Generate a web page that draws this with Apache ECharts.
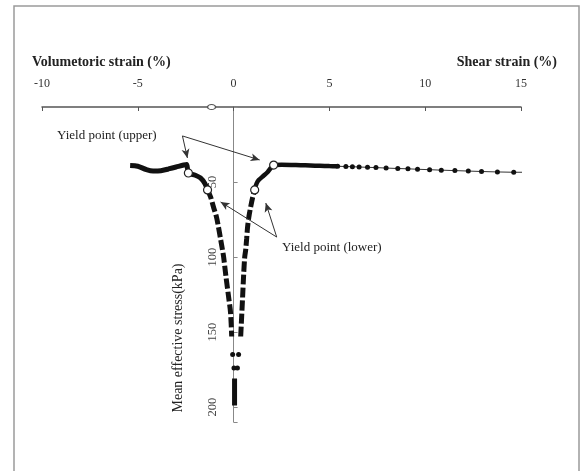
<!DOCTYPE html>
<html>
<head>
<meta charset="utf-8">
<script src="https://cdn.jsdelivr.net/npm/echarts@6/dist/echarts.min.js"></script>
<style>
html,body{margin:0;padding:0;background:#fff;}
#chart{width:587px;height:471px;}
</style>
</head>
<body>
<div id="chart"></div>
<script>
// ---- data (strain %, mean effective stress kPa) ----
const xTicks = [-10, -5, 0, 5, 10, 15];
const yTicks = [50, 100, 150, 200];
const volSolid = [[-5.4,39],[-5.0,39.5],[-4.6,41.5],[-4.2,42.7],[-3.8,42.5],[-3.4,41.3],[-3.0,40],[-2.6,38.7],[-2.45,38.3],[-2.36,44],[-2.0,45.5],[-1.73,47.3],[-1.5,51],[-1.36,55.3]];
const volDashed = [[-1.36,55.3],[-1.2,60],[-1.05,66.7],[-0.9,73],[-0.79,80],[-0.68,88],[-0.58,95.3],[-0.52,100],[-0.4,113],[-0.26,126.7],[-0.16,137],[-0.1,153]];
const shearDashed = [[0.37,153],[0.42,140],[0.47,126.7],[0.52,113],[0.58,100],[0.63,95.3],[0.68,88],[0.73,80],[0.8,73],[0.89,66.7],[1.0,60],[1.10,55.3]];
const shearSolid = [[1.10,55.3],[1.2,51],[1.31,48.7],[1.55,46],[1.78,43.3],[1.95,40.5],[2.09,38.7],[2.5,38.5],[3.0,38.6],[3.5,38.8],[4.0,39],[4.5,39.2],[5.0,39.4],[5.4,39.5]];
const shearDots = [[5.43,39.5],[5.86,39.7],[6.2,39.8],[6.55,40],[6.99,40.2],[7.43,40.4],[7.96,40.7],[8.57,41],[9.1,41.2],[9.6,41.5],[10.23,41.8],[10.84,42.1],[11.55,42.4],[12.25,42.7],[12.94,43],[13.77,43.3],[14.62,43.5]];
const shearTailEnd = [[14.62,43.5],[15.35,43.5]];
const bottomDots = [[-0.05,165],[0.26,165],[0.02,174],[0.2,174]];
const bottomBar = [[0.05,181],[0.05,199]];
const yieldPoints = [[-2.36,44],[-1.36,55.3],[2.09,38.7],[1.10,55.3]];
const axisPoint = [[-1.15,0]];
// annotation arrows: [from, to] in data units
const upperArrows = [[[-2.67,19.3],[-2.41,34]],[[-2.67,19.3],[1.36,35.3]]];
const lowerArrows = [[[2.25,86.7],[-0.68,63.3]],[[2.25,86.7],[1.68,64]]];

const FONT = 'Liberation Serif';
const GRID_LEFT = 42, GRID_WIDTH = 479;
const chart = echarts.init(document.getElementById('chart'), null, {renderer:'canvas'});

function arrowData(list){
  return list.map(a => [{coord:a[0], symbol:'none'}, {coord:a[1], symbol:'arrow', symbolSize:[6,9]}]);
}
// shift y axis so it sits at x = 0 on the strain axis
const yAxisOffset = -GRID_WIDTH * (0 - (-10)) / (15 - (-10));

chart.setOption({
  animation:false,
  backgroundColor:'#fff',
  grid:{left:GRID_LEFT, width:GRID_WIDTH, top:107, height:315, containLabel:false},
  xAxis:{
    type:'value', position:'top', min:-10, max:15, interval:5,
    axisLine:{onZero:false, lineStyle:{color:'#555', width:1.5}},
    axisTick:{inside:true, length:4, lineStyle:{color:'#555'}},
    axisLabel:{margin:17, color:'#333', fontFamily:FONT, fontSize:12,
      formatter:v => xTicks.indexOf(v) >= 0 ? String(v) : ''},
    splitLine:{show:false}
  },
  yAxis:{
    type:'value', inverse:true, min:0, max:210, interval:50, position:'left', offset:yAxisOffset,
    axisLine:{onZero:false, lineStyle:{color:'#888', width:1}},
    axisTick:{inside:true, length:4, lineStyle:{color:'#888'}},
    axisLabel:{rotate:90, margin:14, color:'#444', fontFamily:FONT, fontSize:12.5,
      formatter:v => yTicks.indexOf(v) >= 0 ? String(v) : ''},
    splitLine:{show:false}
  },
  graphic:[
    {type:'rect', shape:{x:14, y:6, width:565, height:490}, style:{fill:'none', stroke:'#9a9a9a', lineWidth:1.5}, silent:true},
    {type:'text', x:32, y:62, style:{text:'Volumetoric strain (%)', font:'bold 14px "Liberation Serif"', fill:'#222', align:'left', verticalAlign:'middle'}},
    {type:'text', x:557, y:62, style:{text:'Shear strain (%)', font:'bold 14px "Liberation Serif"', fill:'#222', align:'right', verticalAlign:'middle'}},
    {type:'text', x:57, y:136, style:{text:'Yield point (upper)', font:'13px "Liberation Serif"', fill:'#222', align:'left', verticalAlign:'middle'}},
    {type:'text', x:282, y:248, style:{text:'Yield point (lower)', font:'13px "Liberation Serif"', fill:'#222', align:'left', verticalAlign:'middle'}},
    {type:'text', x:178, y:338, rotation:Math.PI/2, style:{text:'Mean effective stress(kPa)', font:'14px "Liberation Serif"', fill:'#222', align:'center', verticalAlign:'middle'}}
  ],
  series:[
    {type:'line', data:volSolid, showSymbol:false, smooth:0.3, lineStyle:{color:'#111', width:5}, z:3},
    {type:'line', data:volDashed, showSymbol:false, smooth:0.3, lineStyle:{color:'#111', width:5, type:[10,3]}, z:3},
    {type:'line', data:shearDashed, showSymbol:false, smooth:0.3, lineStyle:{color:'#111', width:5, type:[10,3]}, z:3},
    {type:'line', data:shearSolid, showSymbol:false, smooth:0.3, lineStyle:{color:'#111', width:4.5}, z:3},
    {type:'line', data:shearDots, symbol:'circle', symbolSize:5, itemStyle:{color:'#111'}, lineStyle:{color:'#333', width:1}, z:3},
    {type:'line', data:shearTailEnd, showSymbol:false, lineStyle:{color:'#333', width:1}, z:3},
    {type:'scatter', data:bottomDots, symbol:'circle', symbolSize:5, itemStyle:{color:'#111', opacity:1}, z:3},
    {type:'line', data:bottomBar, showSymbol:false, lineStyle:{color:'#111', width:5}, z:3},
    {type:'scatter', data:yieldPoints, symbol:'circle', symbolSize:8,
      itemStyle:{color:'#fff', borderColor:'#222', borderWidth:1.2, opacity:1}, z:5,
      markLine:{silent:true, animation:false, label:{show:false}, lineStyle:{color:'#333', width:1, type:'solid'},
        data:arrowData(upperArrows).concat(arrowData(lowerArrows))}},
    {type:'scatter', data:axisPoint, symbol:'circle', symbolSize:[8,5],
      itemStyle:{color:'#fff', borderColor:'#555', borderWidth:1.2, opacity:1}, z:5}
  ]
});
</script>
</body>
</html>
